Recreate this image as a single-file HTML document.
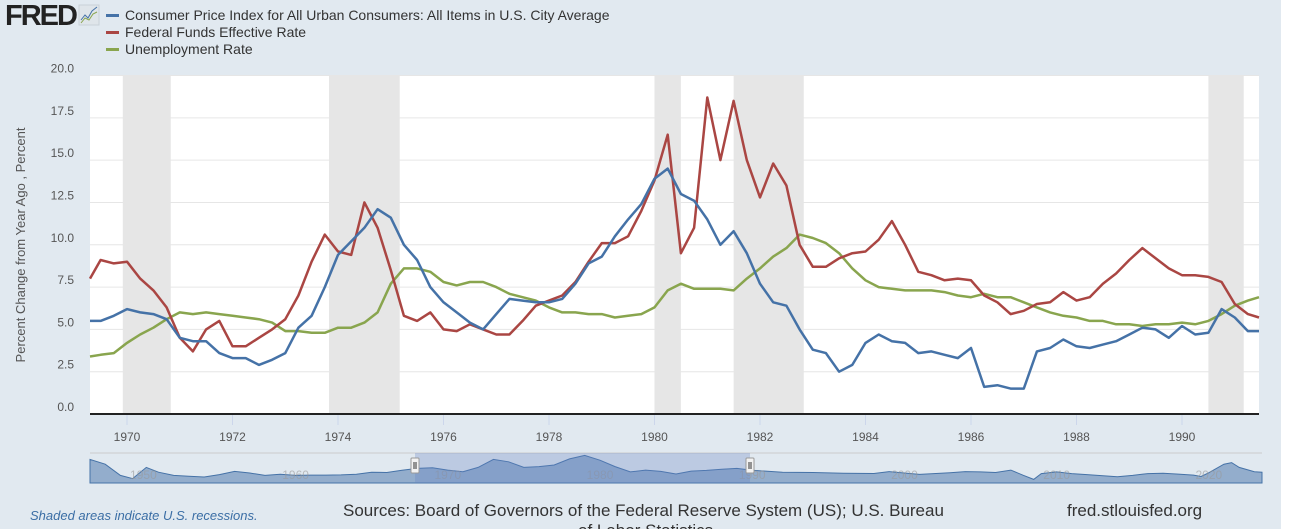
<!DOCTYPE html>
<html><head><meta charset="utf-8"><style>
html,body{margin:0;padding:0;background:#fff;}
body{width:1292px;height:529px;overflow:hidden;position:relative;font-family:"Liberation Sans",sans-serif;}
#bg{position:absolute;left:0;top:0;width:1281px;height:529px;background:#e1e9f0;}
svg{position:absolute;left:0;top:0;}
</style></head><body>
<div id="bg"></div>
<svg id="chart" width="1292" height="529">
  <g>
    <text x="5" y="25" font-size="29" font-weight="bold" fill="#222" letter-spacing="-2">FRED</text>
    <rect x="79" y="5" width="20" height="20" fill="#dfe5ea" stroke="#c9d1d8"/>
    <polyline points="81,20 85,15 88,18 92,11 97,7" fill="none" stroke="#4572a7" stroke-width="1"/>
    <polyline points="81,23 85,18 89,20 93,14 97,12" fill="none" stroke="#89a54e" stroke-width="1"/>
  </g>
  <g>
    <g><rect x="106" y="14" width="13" height="3" fill="#4572a7"/><text x="125" y="20" font-size="14" fill="#333">Consumer Price Index for All Urban Consumers: All Items in U.S. City Average</text></g>
    <g><rect x="106" y="31" width="13" height="3" fill="#aa4643"/><text x="125" y="37" font-size="14" fill="#333">Federal Funds Effective Rate</text></g>
    <g><rect x="106" y="48" width="13" height="3" fill="#89a54e"/><text x="125" y="54" font-size="14" fill="#333">Unemployment Rate</text></g>
  </g>
  <rect x="90" y="75" width="1169" height="339" fill="#fff"/>
  <g id="recessions"></g>
  <g id="grid"></g>
  <g id="yticks"></g>
  <g id="xticks"></g>
  <text transform="translate(25,245) rotate(-90)" text-anchor="middle" font-size="13" fill="#555">Percent Change from Year Ago , Percent</text>
  <g id="series"></g>
  <line x1="90" y1="414" x2="1259" y2="414" stroke="#222" stroke-width="2"/>
  <g id="nav"></g>
  <text x="30" y="520" font-size="13" font-style="italic" fill="#3b6ea5">Shaded areas indicate U.S. recessions.</text>
  <text x="343" y="516" font-size="17" fill="#333">Sources: Board of Governors of the Federal Reserve System (US); U.S. Bureau</text>
  <text x="578" y="536" font-size="17" fill="#333">of Labor Statistics</text>
  <text x="1067" y="516" font-size="17" fill="#333">fred.stlouisfed.org</text>
</svg>
<script>
const startYear = 1969.25;
const stepYears = 0.25;
const cpi = [5.5,5.5,5.8,6.2,6.0,5.9,5.6,4.5,4.3,4.3,3.6,3.3,3.3,2.9,3.2,3.6,5.1,5.8,7.5,9.4,10.2,11.0,12.1,11.6,10.0,9.1,7.5,6.6,6.0,5.4,5.0,5.9,6.8,6.7,6.6,6.6,6.8,7.7,8.9,9.3,10.5,11.5,12.4,13.9,14.5,13.0,12.6,11.5,10.0,10.8,9.5,7.7,6.6,6.4,5.0,3.8,3.6,2.5,2.9,4.2,4.7,4.3,4.2,3.6,3.7,3.5,3.3,3.9,1.6,1.7,1.5,1.5,3.7,3.9,4.4,4.0,3.9,4.1,4.3,4.7,5.1,5.0,4.5,5.2,4.7,4.8,6.2,5.7,4.9,4.9];
const fedFunds = [8.0,9.1,8.9,9.0,8.0,7.3,6.3,4.5,3.7,5.0,5.5,4.0,4.0,4.5,5.0,5.6,7.0,9.0,10.6,9.6,9.4,12.5,11.0,8.5,5.8,5.5,6.0,5.0,4.9,5.3,5.0,4.7,4.7,5.5,6.4,6.7,7.0,7.8,9.0,10.1,10.1,10.5,12.0,13.8,16.5,9.5,11.0,18.7,15.0,18.5,15.0,12.8,14.8,13.5,10.0,8.7,8.7,9.2,9.5,9.6,10.3,11.4,10.0,8.4,8.2,7.9,8.0,7.9,7.0,6.6,5.9,6.1,6.5,6.6,7.2,6.7,6.9,7.7,8.3,9.1,9.8,9.2,8.6,8.2,8.2,8.1,7.8,6.5,5.9,5.7];
const unemployment = [3.4,3.5,3.6,4.2,4.7,5.1,5.6,6.0,5.9,6.0,5.9,5.8,5.7,5.6,5.4,4.9,4.9,4.8,4.8,5.1,5.1,5.4,6.0,7.7,8.6,8.6,8.4,7.8,7.6,7.8,7.8,7.5,7.1,6.9,6.7,6.3,6.0,6.0,5.9,5.9,5.7,5.8,5.9,6.3,7.3,7.7,7.4,7.4,7.4,7.3,8.0,8.6,9.3,9.8,10.6,10.4,10.1,9.5,8.6,7.9,7.5,7.4,7.3,7.3,7.3,7.2,7.0,6.9,7.1,6.9,6.9,6.6,6.3,6.0,5.8,5.7,5.5,5.5,5.3,5.3,5.2,5.3,5.3,5.4,5.3,5.5,5.9,6.4,6.7,6.9];
const recessionStarts = [1969.92,1973.83,1980.0,1981.5,1990.5];
const recessionEnds = [1970.83,1975.17,1980.5,1982.83,1991.17];
const yTicks = [0,2.5,5,7.5,10,12.5,15,17.5,20];
const yTickLabels = ["0.0","2.5","5.0","7.5","10.0","12.5","15.0","17.5","20.0"];
const xTicks = [1970,1972,1974,1976,1978,1980,1982,1984,1986,1988,1990];
const navYears = [1947.5,1948.5,1949.5,1950.3,1951.2,1952,1953,1954,1955,1956,1957,1958,1959,1960,1961,1962,1963,1964,1965,1966,1967,1968,1969,1970,1971,1972,1973,1974,1975,1976,1977,1978,1979,1980,1981,1982,1983,1984,1985,1986,1987,1988,1989,1990,1991,1993,1995,1997,1999,2000,2002,2004,2005,2006,2007,2008,2008.8,2009.5,2010,2011,2012,2013,2015,2016,2017,2018,2019,2020,2020.5,2021,2022,2022.5,2023,2024,2024.5];
const navValues = [11,8,1,-1,6,3,1,0.5,0,1.5,3.5,2.5,1,1.7,1,1.2,1.2,1.3,1.7,3,2.8,4.2,5.4,5.8,4.3,3.3,6,11,9.5,6,6.5,7.5,11.3,13.5,10.5,6.5,3.2,4.3,3.5,1.9,3.7,4.1,4.8,5.4,4.2,3,2.8,2.3,2.2,3.4,1.6,2.7,3.4,3.2,2.8,4.3,1.1,-1.5,2.1,3.2,2.1,1.5,0.1,1,2.1,2.4,1.8,1.2,0.3,2.6,8,9,6,3.3,3];
const navTicks = [1950,1960,1970,1980,1990,2000,2010,2020];

const NS='http://www.w3.org/2000/svg';
const X0=90,X1=1259,Y0=414,Y20=75.5;
function xScale(t){return 127+(t-1970)*52.75;}
function yScale(v){return Y0-(v/20)*(Y0-Y20);}
function mk(tag,attrs,parent){const e=document.createElementNS(NS,tag);for(const k in attrs)e.setAttribute(k,attrs[k]);parent.appendChild(e);return e;}

const rg=document.getElementById('recessions');
recessionStarts.forEach((s,i)=>{
  const a=Math.max(X0,xScale(s)),b=Math.min(X1,xScale(recessionEnds[i]));
  const r=mk('rect',{x:a,y:75,width:b-a,height:339,fill:'#e6e6e6'},rg);
  
  
});
const gg=document.getElementById('grid'),yg=document.getElementById('yticks');
yTicks.forEach((v,i)=>{
  if(v>0){const l=mk('line',{x1:X0,x2:X1,y1:yScale(v),y2:yScale(v),stroke:'#e6e6e6','stroke-width':1},gg);
  
  }
  const t=mk('text',{x:74,y:yScale(v)-3,'text-anchor':'end','font-size':12,fill:'#555'},yg);
  t.textContent=yTickLabels[i];
  
  
});
const xg=document.getElementById('xticks');
xTicks.forEach(yr=>{
  const l=mk('line',{x1:xScale(yr),x2:xScale(yr),y1:415,y2:425,stroke:'#ccd6eb'},xg);
  
  
  const t=mk('text',{x:xScale(yr),y:441,'text-anchor':'middle','font-size':12,fill:'#555'},xg);
  t.textContent=yr;
  
  
});
const sg=document.getElementById('series');
function drawSeries(arr,color,name){
  const pts=arr.map((v,i)=>{let x=xScale(startYear+i*stepYears);x=Math.min(X1,Math.max(X0,x));return x.toFixed(1)+','+yScale(v).toFixed(1);}).join(' ');
  const p=mk('polyline',{points:pts,fill:'none',stroke:color,'stroke-width':2.5,'stroke-linejoin':'round'},sg);
  
  
}
drawSeries(unemployment,'#89a54e','unemployment-line');
drawSeries(fedFunds,'#aa4643','fed-funds-line');
drawSeries(cpi,'#4572a7','cpi-line');

// navigator
const ng=document.getElementById('nav');
const NX0=90,NX1=1262,NT=453,NB=483;
function nx(t){return NX0+(t-1947.5)*(NX1-NX0)/(2024.5-1947.5);}
function ny(v){return 477-v*1.6;}
mk('line',{x1:NX0,x2:NX1,y1:NT,y2:NT,stroke:'#ccc'},ng);
let d='M'+nx(navYears[0]).toFixed(1)+','+NB;
navYears.forEach((t,i)=>{d+=' L'+nx(t).toFixed(1)+','+ny(navValues[i]).toFixed(1);});
d+=' L'+nx(navYears[navYears.length-1]).toFixed(1)+','+NB+' Z';
const area=mk('path',{d:d,fill:'rgba(69,114,167,0.5)',stroke:'#4572a7','stroke-width':1},ng);


navTicks.forEach(yr=>{
  const t=mk('text',{x:nx(yr)+2,y:479,'font-size':12,fill:'#999','fill-opacity':0.6},ng);
  t.textContent=yr;
  
  
});
const selA=415,selB=750;
const sel=mk('rect',{x:selA,y:NT,width:selB-selA,height:NB-NT,fill:'rgba(102,133,194,0.3)'},ng);


[selA,selB].forEach(hx=>{
  const h=mk('rect',{x:hx-4,y:458,width:8,height:15,fill:'#f2f2f2',stroke:'#999',rx:1},ng);
  
  
  mk('line',{x1:hx-1,x2:hx-1,y1:462,y2:469,stroke:'#333'},ng);
  mk('line',{x1:hx+1,x2:hx+1,y1:462,y2:469,stroke:'#333'},ng);
});
</script>
</body></html>
